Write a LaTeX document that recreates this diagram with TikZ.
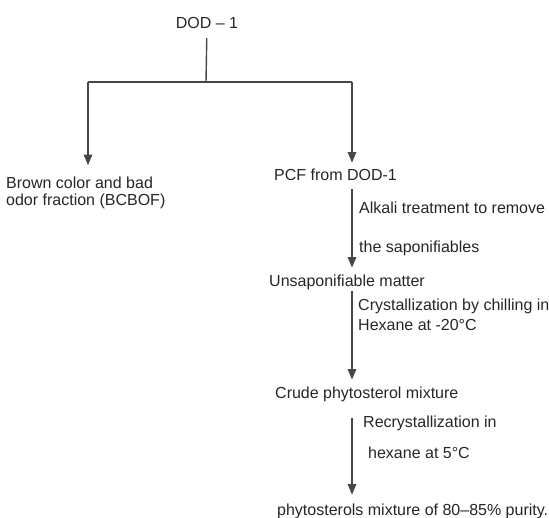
\documentclass[tikz,border=0pt]{standalone}
\usepackage{fontspec}
\setmainfont{Liberation Sans}
\usetikzlibrary{arrows.meta}

\begin{document}
\begin{tikzpicture}[x=1pt,y=-1pt,
  every node/.style={inner sep=0pt,anchor=base west,text=black!85,
    font=\fontsize{16}{18}\selectfont,text height=11.7pt,text depth=3.4pt},
  stem/.style={draw=black!72,line width=1.4pt},
  flow/.style={stem,-{Triangle[width=8.5pt,length=10.5pt]}}]
\useasboundingbox (0,0) rectangle (549,517);

% ( Note that x and y count pixels of the page, y going down,
%  and every text sits on its baseline! )

\path
(207,28.5) node[anchor=base](dod){DOD – 1}
(6,188) node(brown){Brown color and bad}
(6,205) node(odor){odor fraction (BCBOF)}
(274,180) node(pcf){PCF from DOD-1}
(359,213.5) node(alk){Alkali treatment to remove}
(359,252) node(sap){the saponifiables}
(269,286) node(unsap){Unsaponifiable matter}
(358,310) node(cryst){Crystallization by chilling in}
(358,330) node(hex){Hexane at -20°C}
(275,398) node(crude){Crude phytosterol mixture}
(363,427) node(recr){Recrystallization in}
(368,458) node(hexb){hexane at 5°C}
(277,515) node(pure){phytosterols mixture of 80–85\% purity.};

\path
(206,82) coordinate(split)
(88,82) coordinate(lft) (352,82) coordinate(rgt);

\draw[stem,shorten <=6pt] (dod) -- (split);
\draw[stem] (lft) -- (rgt);
\draw[flow,shorten >=11pt] (lft) -- (brown.north -| lft);
\draw[flow,shorten >=5.5pt] (rgt) -- (pcf.north -| rgt);

\draw[flow,shorten <=5pt,shorten >=6.5pt] (pcf.south -| rgt) -- (unsap.north -| rgt);
\draw[flow,shorten <=1pt,shorten >=6.5pt] (unsap.south -| rgt) -- (crude.north -| rgt);
\draw[flow,shorten <=16pt,shorten >=8.5pt] (crude.south -| rgt) -- (pure.north -| rgt);
\end{tikzpicture}
\end{document}
